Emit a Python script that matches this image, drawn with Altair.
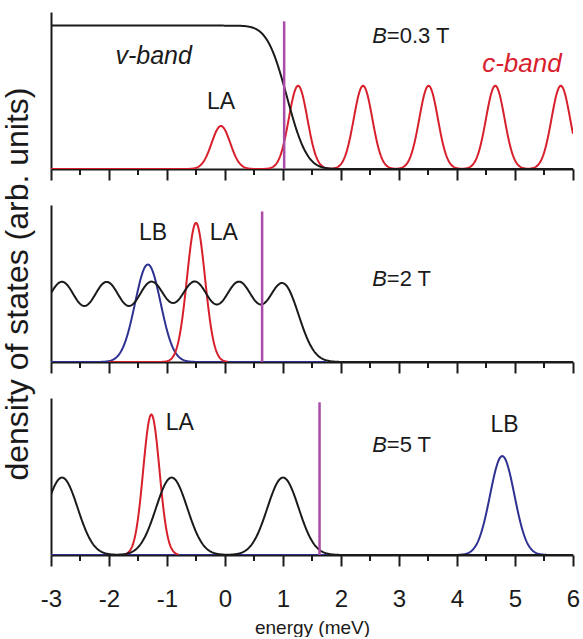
import math
import altair as alt
import numpy as np
import pandas as pd

# ---------------- data ----------------
X_DOMAIN = [-3.0, 6.0]
Y_DOMAIN = [0.0, 1.095]
major_ticks = [-3, -2, -1, 0, 1, 2, 3, 4, 5, 6]
minor_ticks = [-2.5, -1.5, -0.5, 0.5, 1.5, 2.5, 3.5, 4.5, 5.5]

# Panel 1 : B = 0.3 T
p1_vband_level = 1.0
p1_vband_edge = 1.07          # centre of the v-band fall-off (meV)
p1_vband_width = 0.27
p1_c_centers = [-0.07, 1.26, 2.38, 3.51, 4.66, 5.79]
p1_c_heights = [0.30, 0.58, 0.58, 0.58, 0.58, 0.58]
p1_c_sigmas = [0.16, 0.16, 0.16, 0.16, 0.16, 0.16]
p1_fermi = [1.02]
p1_fermi_top = [1.03]

# Panel 2 : B = 2 T
p2_v_centers = [-3.57, -2.81, -2.04, -1.27, -0.52, 0.24, 1.00]
p2_v_heights = [0.54, 0.54, 0.54, 0.54, 0.54, 0.54, 0.54]
p2_v_sigmas = [0.27, 0.27, 0.27, 0.27, 0.27, 0.27, 0.27]
p2_LB = {"center": [-1.33], "height": [0.68], "sigma": [0.22], "range": [-3.0, 1.74]}
p2_LA = {"center": [-0.50], "height": [0.97], "sigma": [0.155], "range": [-2.0, 0.05]}
p2_fermi = [0.64]
p2_fermi_top = [1.05]

# Panel 3 : B = 5 T
p3_v_centers = [-2.81, -0.92, 1.00]
p3_v_heights = [0.54, 0.54, 0.54]
p3_v_sigmas = [0.27, 0.27, 0.27]
p3_LA = {"center": [-1.27], "height": [0.98], "sigma": [0.14], "range": [-1.72, -0.80]}
p3_LB = {"center": [4.78], "height": [0.69], "sigma": [0.21], "range": [-3.0, 6.0]}
p3_fermi = [1.63]
p3_fermi_top = [1.065]

# annotations (text, x, y baseline)
p1_labels = {"text": ["LA"], "x": [-0.07], "y": [0.42]}
p1_vband = {"text": ["v-band"], "x": [-1.23], "y": [0.73]}
p1_cband = {"text": ["c-band"], "x": [5.12], "y": [0.68]}
p2_labels = {"text": ["LB", "LA"], "x": [-1.24, -0.02], "y": [0.85, 0.85]}
p3_labels = {"text": ["LA", "LB"], "x": [-0.78, 4.82], "y": [0.87, 0.86]}
field_x = [2.79]
p1_field = {"rest": ["=0.3 T"], "y": [0.88]}
p2_field = {"rest": ["=2 T"], "y": [0.53]}
p3_field = {"rest": ["=5 T"], "y": [0.72]}

# ---------------- styling ----------------
RED = "#d8202c"
BLUE = "#2e3192"
PURPLE = "#a84ca8"
BLACK = "#1a1a1a"
FONT = "Liberation Sans, Arial, sans-serif"
W, H = 522, 157
MAJOR_LEN, MINOR_LEN = 11, 6

energy = np.round(np.arange(-3.0, 6.0001, 0.01), 4)


def gauss_curve(centers, heights, sigmas, lo=-3.0, hi=6.0):
    xs = energy[(energy >= lo - 1e-9) & (energy <= hi + 1e-9)]
    ys = np.zeros_like(xs)
    for c, h, s in zip(centers, heights, sigmas):
        ys = ys + h * np.exp(-((xs - c) ** 2) / (2 * s * s))
    return pd.DataFrame({"x": xs, "y": ys})


def step_curve(level, edge, width):
    ys = [level * 0.5 * math.erfc((e - edge) / (width * math.sqrt(2))) for e in energy]
    return pd.DataFrame({"x": energy, "y": ys})


def x_enc(bottom):
    kw = dict(
        values=major_ticks,
        ticks=True,
        tickSize=MAJOR_LEN,
        tickColor=BLACK,
        tickWidth=2,
        labelExpr="'' + datum.value",
        labelOverlap=False,
        labelFlush=False,
        grid=False,
        labels=bottom,
    )
    if bottom:
        kw["title"] = "energy (meV)"
        kw["labelFont"] = FONT
        kw["labelFontSize"] = 24
        kw["labelPadding"] = 21
        kw["titleFont"] = FONT
        kw["titleFontSize"] = 19
        kw["titleFontWeight"] = "normal"
        kw["titlePadding"] = 7
    else:
        kw["title"] = ""
    return alt.X("x:Q", scale=alt.Scale(domain=X_DOMAIN, nice=False, zero=False), axis=alt.Axis(**kw))


def y_enc(title=False):
    kw = dict(ticks=False, labels=False, grid=False)
    if title:
        kw["title"] = "density of states (arb. units)"
        kw["titleFont"] = FONT
        kw["titleFontSize"] = 32
        kw["titleFontWeight"] = "normal"
        kw["titlePadding"] = 17
        kw["titleColor"] = BLACK
    else:
        kw["title"] = ""
    return alt.Y("y:Q", scale=alt.Scale(domain=Y_DOMAIN, nice=False, zero=False), axis=alt.Axis(**kw))


def line(df, color, bottom, ytitle=False):
    return alt.Chart(df).mark_line(color=color, strokeWidth=2, clip=True).encode(
        x=x_enc(bottom), y=y_enc(ytitle)
    )


def minor(bottom):
    return alt.Chart(pd.DataFrame({"x": minor_ticks})).mark_rule(color=BLACK, strokeWidth=2).encode(
        x=x_enc(bottom), y=alt.value(H), y2=alt.value(H + MINOR_LEN)
    )


def fermi(xv, top, bottom):
    df = pd.DataFrame({"x": xv, "y": [0.0], "y2": top})
    return alt.Chart(df).mark_rule(color=PURPLE, strokeWidth=2.5).encode(
        x=x_enc(bottom), y=y_enc(), y2="y2:Q"
    )


def texts(d, bottom, color=BLACK, italic=False, size=23, align="center"):
    df = pd.DataFrame(d)
    return alt.Chart(df).mark_text(
        font=FONT, fontSize=size, color=color, align=align, baseline="alphabetic",
        fontStyle="italic" if italic else "normal",
    ).encode(x=x_enc(bottom), y=y_enc(), text="text:N")


def field(d, bottom):
    df = pd.DataFrame({"x": field_x, "y": d["y"], "b": ["B"], "rest": d["rest"]})
    b = alt.Chart(df).mark_text(
        font=FONT, fontSize=22, color=BLACK, align="right", baseline="alphabetic", fontStyle="italic"
    ).encode(x=x_enc(bottom), y=y_enc(), text="b:N")
    r = alt.Chart(df).mark_text(
        font=FONT, fontSize=22, color=BLACK, align="left", baseline="alphabetic"
    ).encode(x=x_enc(bottom), y=y_enc(), text="rest:N")
    return b + r


# ---------------- panels ----------------
panel1 = alt.layer(
    line(gauss_curve(p1_c_centers, p1_c_heights, p1_c_sigmas), RED, False),
    line(step_curve(p1_vband_level, p1_vband_edge, p1_vband_width), BLACK, False),
    fermi(p1_fermi, p1_fermi_top, False),
    minor(False),
    texts(p1_labels, False),
    texts(p1_vband, False, italic=True, size=25),
    texts(p1_cband, False, color=RED, italic=True, size=26),
    field(p1_field, False),
).properties(width=W, height=H)

panel2 = alt.layer(
    line(gauss_curve(p2_LB["center"], p2_LB["height"], p2_LB["sigma"], *p2_LB["range"]), BLUE, False, True),
    line(gauss_curve(p2_LA["center"], p2_LA["height"], p2_LA["sigma"], *p2_LA["range"]), RED, False),
    line(gauss_curve(p2_v_centers, p2_v_heights, p2_v_sigmas), BLACK, False),
    fermi(p2_fermi, p2_fermi_top, False),
    minor(False),
    texts(p2_labels, False),
    field(p2_field, False),
).properties(width=W, height=H)

panel3 = alt.layer(
    line(gauss_curve(p3_LB["center"], p3_LB["height"], p3_LB["sigma"], *p3_LB["range"]), BLUE, True),
    line(gauss_curve(p3_LA["center"], p3_LA["height"], p3_LA["sigma"], *p3_LA["range"]), RED, True),
    line(gauss_curve(p3_v_centers, p3_v_heights, p3_v_sigmas), BLACK, True),
    fermi(p3_fermi, p3_fermi_top, True),
    minor(True),
    texts(p3_labels, True),
    field(p3_field, True),
).properties(width=W, height=H)

chart = alt.vconcat(panel1, panel2, panel3, spacing=36, bounds="flush").properties(
    padding={"left": 0, "top": 12, "right": 2, "bottom": 0},
    background="white",
).configure_view(stroke=None).configure_axis(
    domainColor=BLACK, domainWidth=2, tickColor=BLACK, tickWidth=2,
    labelColor=BLACK, titleColor=BLACK,
)

chart.save("out.html", embed_options={"renderer": "svg", "actions": False})
